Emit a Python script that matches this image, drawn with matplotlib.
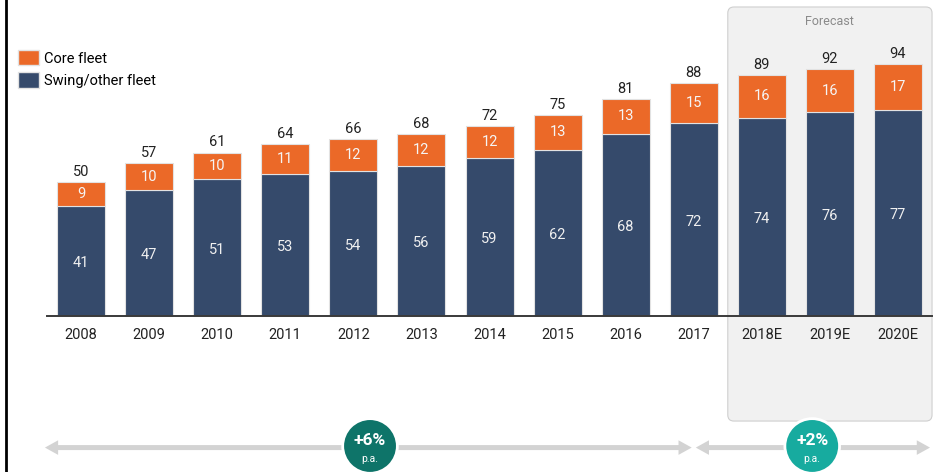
import matplotlib.pyplot as plt
import matplotlib.patches as mpatches
from matplotlib.lines import Line2D

plt.rcParams['font.family'] = ['Roboto', 'DejaVu Sans']

years = ['2008', '2009', '2010', '2011', '2012', '2013', '2014',
         '2015', '2016', '2017', '2018E', '2019E', '2020E']
core = [9, 10, 10, 11, 12, 12, 12, 13, 13, 15, 16, 16, 17]
swing = [41, 47, 51, 53, 54, 56, 59, 62, 68, 72, 74, 76, 77]
totals = [50, 57, 61, 64, 66, 68, 72, 75, 81, 88, 89, 92, 94]
n_actual = 10
growth = [('+6%', 'p.a.'), ('+2%', 'p.a.')]

ORANGE = '#eb6928'
NAVY = '#354a6b'

fig = plt.figure(figsize=(9.4, 4.72), dpi=100)
ax = fig.add_axes([0, 0, 1, 1])
ax.set_xlim(-1.19, 12.617)
ax.set_ylim(-58.21, 117.91)
ax.axis('off')

x = range(len(years))
w = 0.705

# forecast panel
px_x = 68.08
px_y = 2.68
box = mpatches.FancyBboxPatch((n_actual - 0.5, -39.2), 3.0, 154.5,
                              boxstyle='round,pad=0,rounding_size=0.09',
                              mutation_aspect=px_x / px_y,
                              facecolor='#f1f1f1', edgecolor='#cfcfcf',
                              lw=0.8, zorder=0)
ax.add_patch(box)
ax.text(n_actual + 1.0, 109.9, 'Forecast', ha='center', va='center',
        fontsize=9, color='#8a8a8a')

ax.bar(x, swing, width=w, color=NAVY, edgecolor='#e2e2e2', lw=0.8, zorder=2,
       label='Swing/other fleet')
ax.bar(x, core, width=w, bottom=swing, color=ORANGE, edgecolor='#e2e2e2',
       lw=0.8, zorder=2, label='Core fleet')

for i in x:
    ax.text(i, swing[i] / 2 - 0.8, str(swing[i]), ha='center', va='center',
            fontsize=10.5, color='#f0f0f0', zorder=3)
    ax.text(i, swing[i] + core[i] / 2, str(core[i]), ha='center', va='center',
            fontsize=10.5, color='#f5f5f5', zorder=3)
    ax.text(i, swing[i] + core[i] + 3.8, str(totals[i]), ha='center',
            va='center', fontsize=10.5, color='#222222', zorder=3)
    ax.text(i, -7.1, years[i], ha='center', va='center', fontsize=10.5,
            color='#222222')

ax.plot([-0.5, 12.5], [0, 0], color='#3a3a3a', lw=1.4, zorder=4)

# growth arrows: two filled "simple" arrows pointing outward from the middle
arrow_y = -49.1
spans = [(-0.53, 8.97), (9.03, 12.47)]
style = 'simple,head_length=9.5,head_width=10.5,tail_width=3.6'
for x0, x1 in spans:
    mid = (x0 + x1) / 2
    for end in (x0, x1):
        arr = mpatches.FancyArrowPatch((mid, arrow_y), (end, arrow_y),
                                       arrowstyle=style, mutation_scale=1,
                                       color='#d3d3d3', lw=0,
                                       shrinkA=0, shrinkB=0, zorder=1)
        ax.add_patch(arr)

circle_x = [4.245, 10.74]
circle_c = ['#0e7469', '#17ab9f']
ax.scatter(circle_x, [arrow_y + 0.6] * 2, s=1550, c=circle_c,
           edgecolors='white', linewidths=2, zorder=5)
for cx, (big, small) in zip(circle_x, growth):
    ax.text(cx, arrow_y + 2.6, big, ha='center', va='center', fontsize=12.5,
            fontweight='bold', color='white', zorder=6)
    ax.text(cx, arrow_y - 4.2, small, ha='center', va='center', fontsize=7.5,
            color='white', zorder=6)

handles = [mpatches.Patch(facecolor=ORANGE, edgecolor='#e2e2e2', label='Core fleet'),
           mpatches.Patch(facecolor=NAVY, edgecolor='#e2e2e2', label='Swing/other fleet')]
fig.legend(handles=handles, loc='upper left', bbox_to_anchor=(18 / 940, 1 - 50 / 472),
           frameon=False, fontsize=10.5, handlelength=1.45, handleheight=1.25,
           handletextpad=0.3, labelspacing=0.45, borderpad=0, borderaxespad=0)

fig.add_artist(Line2D([6 / 940, 6 / 940], [0, 1], transform=fig.transFigure,
                      color='black', lw=2))

fig.savefig('out.png', dpi=100)
